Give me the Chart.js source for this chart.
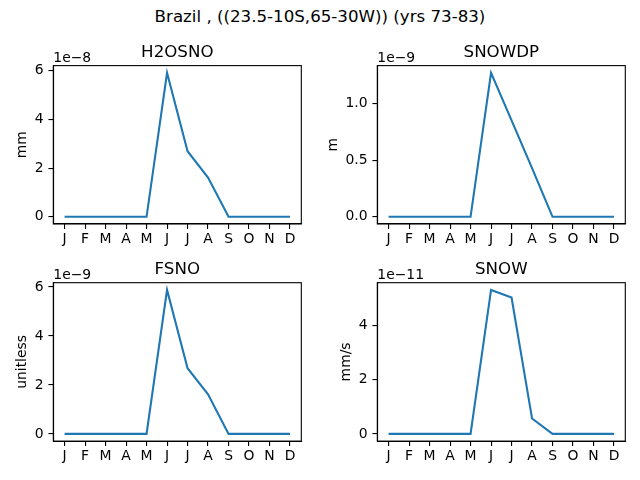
<!DOCTYPE html>
<html lang="en">
<head>
    <meta charset="UTF-8">
    <title>Brazil snow climatology</title>
    <script src="https://cdn.jsdelivr.net/npm/chart.js"></script>
    <style>
        body { margin: 0; background: #fff; font-family: "DejaVu Sans", sans-serif; }
        #wrap { position: relative; width: 640px; height: 480px; overflow: hidden; }
        #suptitle { position: absolute; left: 0; top: 7px; width: 640px; text-align: center;
                    font-size: 16.67px; line-height: 20px; color: #000; }
        canvas { position: absolute; }
    </style>
</head>
<body>
<div id="wrap">
    <div id="suptitle">Brazil , ((23.5-10S,65-30W)) (yrs 73-83)</div>
    <canvas id="c1" width="320" height="260" style="left:0;top:0"></canvas>
    <canvas id="c2" width="320" height="260" style="left:320px;top:0"></canvas>
    <canvas id="c3" width="320" height="240" style="left:0;top:240px"></canvas>
    <canvas id="c4" width="320" height="240" style="left:320px;top:240px"></canvas>
</div>
<script>
    const MONTHS = ['J', 'F', 'M', 'A', 'M', 'J', 'J', 'A', 'S', 'O', 'N', 'D'];

    // monthly means
    const H2OSNO = [0, 0, 0, 0, 0, 5.91e-8, 2.69e-8, 1.61e-8, 0, 0, 0, 0];
    const SNOWDP = [0, 0, 0, 0, 0, 1.27e-9, 0.85e-9, 0.43e-9, 0, 0, 0, 0];
    const FSNO = [0, 0, 0, 0, 0, 5.88e-9, 2.68e-9, 1.62e-9, 0, 0, 0, 0];
    const SNOW = [0, 0, 0, 0, 0, 5.33e-11, 5.05e-11, 0.57e-11, 0, 0, 0, 0];

    // y tick labels (in units of the offset shown above each axis)
    const H2OSNO_TICKS = ['0', '2', '4', '6'];
    const SNOWDP_TICKS = ['0.0', '0.5', '1.0'];
    const FSNO_TICKS = ['0', '2', '4', '6'];
    const SNOW_TICKS = ['0', '2', '4'];

    const FONT = '"DejaVu Sans", sans-serif';
    const BLUE = '#1f77b4';

    // matplotlib-like frame, axes title and offset text ("1e-8")
    const framePlugin = {
        id: 'frame',
        afterDraw(chart, args, opts) {
            const a = chart.chartArea, ctx = chart.ctx;
            ctx.save();
            ctx.strokeStyle = '#000';
            ctx.lineWidth = 1.1;
            ctx.strokeRect(a.left, a.top, a.right - a.left, a.bottom - a.top);
            ctx.fillStyle = '#000';
            ctx.textBaseline = 'alphabetic';
            ctx.font = '13.9px ' + FONT;
            ctx.textAlign = 'left';
            ctx.fillText(opts.offsetText, a.left, a.top - 4);
            ctx.font = '16.67px ' + FONT;
            ctx.textAlign = 'center';
            ctx.fillText(opts.title, (a.left + a.right) / 2, a.top - 8.3);
            ctx.restore();
        }
    };

    function makePanel(id, title, unit, values, tickLabels, exp, offsetText, box) {
        const scale = Math.pow(10, exp);
        const maxV = Math.max(...values), minV = Math.min(...values);
        const margin = (maxV - minV) * 0.05;
        const tickFont = { family: FONT, size: 13.9, lineHeight: 1 };

        return new Chart(document.getElementById(id), {
            type: 'line',
            data: {
                datasets: [{
                    data: values.map((v, i) => ({ x: i, y: v })),
                    borderColor: BLUE,
                    borderWidth: 2.1,
                    pointRadius: 0,
                    tension: 0,
                    fill: false
                }]
            },
            options: {
                responsive: false,
                animation: false,
                layout: { padding: { left: 0, right: box.right, top: box.top, bottom: 0 } },
                plugins: {
                    legend: { display: false },
                    tooltip: { enabled: false },
                    title: { display: false },
                    frame: { offsetText: offsetText, title: title }
                },
                scales: {
                    x: {
                        type: 'linear',
                        min: -0.55,
                        max: MONTHS.length - 1 + 0.55,
                        afterBuildTicks: s => { s.ticks = MONTHS.map((m, i) => ({ value: i })); },
                        afterFit: s => { s.height = box.xh; },
                        grid: { drawOnChartArea: false, drawTicks: true, tickLength: 4.9, color: '#000', lineWidth: 1.1 },
                        border: { display: true, color: '#000', width: 1.1 },
                        ticks: {
                            autoSkip: false, maxRotation: 0, padding: 3.5,
                            color: '#000', font: tickFont,
                            callback: v => MONTHS[v]
                        }
                    },
                    y: {
                        min: minV - margin,
                        max: maxV + margin,
                        afterBuildTicks: s => { s.ticks = tickLabels.map(t => ({ value: parseFloat(t) * scale })); },
                        afterFit: s => { s.width = box.left; },
                        grid: { drawOnChartArea: false, drawTicks: true, tickLength: 4.9, color: '#000', lineWidth: 1.1 },
                        border: { display: true, color: '#000', width: 1.1 },
                        ticks: {
                            padding: 4.9, color: '#000', font: tickFont,
                            callback: (v, i) => tickLabels[i]
                        },
                        title: {
                            display: true,
                            text: unit,
                            color: '#000',
                            font: { family: FONT, size: 13.9, lineHeight: 1 },
                            padding: { top: box.ylab, bottom: 0 }
                        }
                    }
                }
            },
            plugins: [framePlugin]
        });
    }

    const TOP = { top: 65.6, xh: 36 };
    const BOT = { top: 42.7, xh: 38.9 };

    makePanel('c1', 'H2OSNO', 'mm', H2OSNO, H2OSNO_TICKS, -8, '1e\u22128',
        Object.assign({ left: 53.3, right: 18.7, ylab: 15 }, TOP));
    makePanel('c2', 'SNOWDP', 'm', SNOWDP, SNOWDP_TICKS, -9, '1e\u22129',
        Object.assign({ left: 57.3, right: 14.7, ylab: 6 }, TOP));
    makePanel('c3', 'FSNO', 'unitless', FSNO, FSNO_TICKS, -9, '1e\u22129',
        Object.assign({ left: 53.3, right: 18.7, ylab: 15 }, BOT));
    makePanel('c4', 'SNOW', 'mm/s', SNOW, SNOW_TICKS, -11, '1e\u221211',
        Object.assign({ left: 57.3, right: 14.7, ylab: 19 }, BOT));
</script>
</body>
</html>
